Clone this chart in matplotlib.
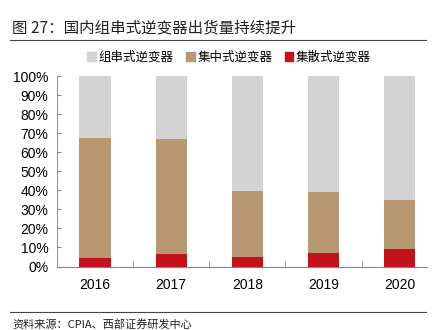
import matplotlib
matplotlib.use("Agg")
import matplotlib.pyplot as plt
import numpy as np
from matplotlib.patches import Rectangle
from matplotlib.lines import Line2D

years = ["2016", "2017", "2018", "2019", "2020"]
series_names = ["组串式逆变器", "集中式逆变器", "集散式逆变器"]
distributed = [4.7, 6.6, 4.9, 7.0, 9.0]
centralized = [62.7, 60.1, 34.8, 32.2, 25.8]
string = [32.6, 33.3, 60.3, 60.8, 65.2]
yticks = [0, 10, 20, 30, 40, 50, 60, 70, 80, 90, 100]

c_string = "#D3D3D3"
c_central = "#B89872"
c_dist = "#C3121C"

cjk = ["Noto Sans CJK SC", "DejaVu Sans"]
num = ["Liberation Sans", "DejaVu Sans"]

W, H = 436, 330
fig = plt.figure(figsize=(W / 100, H / 100), dpi=100)

ax = fig.add_axes([56.7 / W, 1 - 266.5 / H, (426.7 - 56.7) / W, (266.5 - 76) / H])
x = np.arange(len(years))
bw = 0.41
ax.bar(x, distributed, bw, color=c_dist, zorder=3)
ax.bar(x, centralized, bw, bottom=distributed, color=c_central, zorder=3)
bottom2 = np.array(distributed) + np.array(centralized)
ax.bar(x, string, bw, bottom=bottom2, color=c_string, zorder=3)

ax.set_xlim(-0.503, 4.355)
ax.set_ylim(0, 100)
ax.set_yticks(yticks)
ax.set_yticklabels([f"{v}%" for v in yticks], fontfamily=num, fontsize=10)
ax.set_xticks(x)
ax.set_xticklabels(years, fontfamily=num, fontsize=10)
ax.tick_params(axis="x", length=0, pad=8)
ax.set_xticks(x[:-1] + 0.5, minor=True)
ax.tick_params(axis="x", which="minor", direction="in", length=4, color="#888888")
ax.tick_params(axis="y", direction="in", length=3, color="#888888", pad=6)
for s in ["top", "right"]:
    ax.spines[s].set_visible(False)
ax.spines["left"].set_color("#999999")
ax.spines["bottom"].set_color("#888888")

# Title
fig.text(12 / W, 1 - 28 / H, "图 27：国内组串式逆变器出货量持续提升", fontfamily=cjk,
         fontsize=11.2, va="center", ha="left", color="#222222")
fig.add_artist(Line2D([10 / W, 426 / W], [1 - 40 / H, 1 - 40 / H], color="#444444", lw=0.8))

# Legend
handles = [Rectangle((0, 0), 1, 1, color=c) for c in [c_string, c_central, c_dist]]
leg = fig.legend(handles, series_names, loc="center", bbox_to_anchor=(229 / W, 1 - 57 / H),
                 ncol=3, frameon=False, prop={"family": cjk, "size": 9},
                 handlelength=0.7, handleheight=0.7, handletextpad=0.2, columnspacing=1.0)

# Footer
fig.add_artist(Line2D([10 / W, 426 / W], [1 - 312 / H, 1 - 312 / H], color="#444444", lw=0.8))
fig.text(12 / W, 1 - 324 / H, "资料来源：CPIA、西部证券研发中心", fontfamily=cjk,
         fontsize=8, va="center", ha="left", color="#222222")

fig.savefig("out.png", dpi=100)
